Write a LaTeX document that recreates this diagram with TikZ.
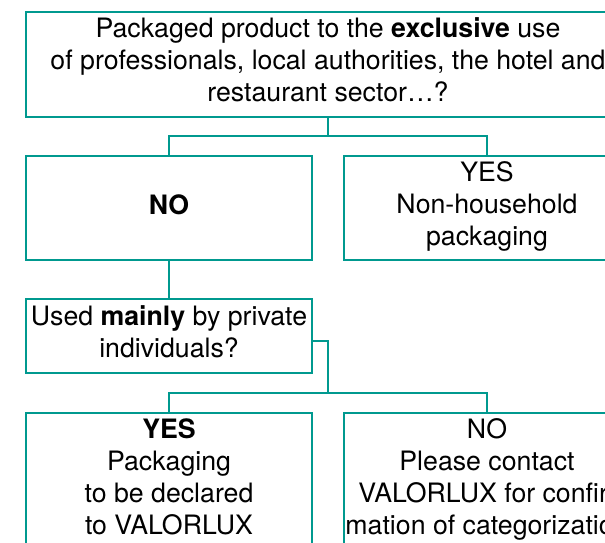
\documentclass[tikz,border=0pt]{standalone}
\usepackage{fontspec}
\setmainfont{TeX Gyre Heros}
\definecolor{lineteal}{RGB}{0,153,143}

\begin{document}
\begin{tikzpicture}[x=1pt, y=-1pt,
  box/.style = {draw=lineteal, line width=1.2pt, rectangle, inner sep=0pt,
    align=center, font=\fontsize{26.7}{32}\selectfont,
    execute at begin node=\strut, execute at end node=\strut},
  halfbox/.style = {box, minimum width=286pt},
  link/.style = {draw=lineteal, line width=1.2pt}]
\useasboundingbox (0,0) rectangle (605,542);
\clip (0,0) rectangle (605,542);

% first question and answers
\node[box, minimum width=604pt, minimum height=105pt] (q1) at (328,64.5)
  {Packaged product to the \textbf{exclusive} use\\
   of professionals, local authorities, the hotel and\\
   restaurant sector…?};
\node[halfbox, minimum height=104pt] (no1) at (169,208) {\textbf{NO}};
\node[halfbox, minimum height=104pt] (yes1) at (487,208)
  {YES\\ Non-household\\ packaging};

% second question and answers
\node[halfbox, minimum height=74pt] (q2) at (169,336)
  {Used \textbf{mainly} by private\\ individuals?};
\node[halfbox, minimum height=137pt] (yes2) at (169,481.5)
  {\textbf{YES}\\ Packaging\\ to be declared\\ to VALORLUX};
\node[halfbox, minimum height=137pt] (no2) at (487,481.5)
  {NO\\ Please contact\\ VALORLUX for confir-\\ mation of categorization};

% connectors
\coordinate (j1) at (328,136);
\coordinate (j2) at (328,393);
\draw[link] (q1) -- (j1);
\draw[link] (no1) |- (j1) -| (yes1);
\draw[link] (no1) -- (q2);
\draw[link] ([yshift=-5pt]q2.east) -| (j2);
\draw[link] (yes2) |- (j2) -| (no2);
\end{tikzpicture}
\end{document}
